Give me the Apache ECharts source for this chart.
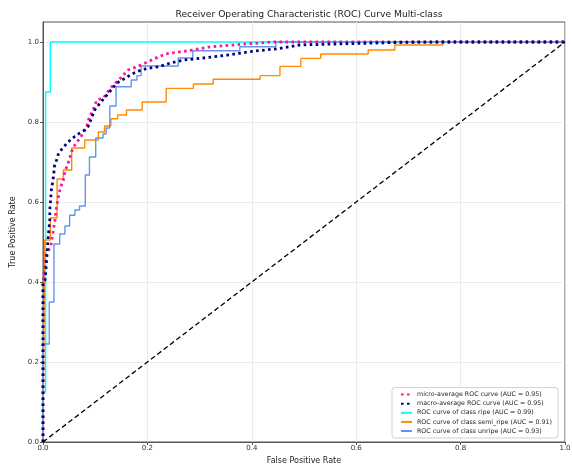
<!DOCTYPE html>
<html><head><meta charset="utf-8">
<script src="https://cdn.jsdelivr.net/npm/echarts@6/dist/echarts.min.js"></script>
<style>html,body{margin:0;padding:0;background:#fff}#c{width:572px;height:464px}</style>
</head><body><div id="c"></div>
<script>
const titleText = 'Receiver Operating Characteristic (ROC) Curve Multi-class';
const tickValues = [0, 0.2, 0.4, 0.6, 0.8, 1.0];
const seriesNames = [
  'micro-average ROC curve (AUC = 0.95)',
  'macro-average ROC curve (AUC = 0.95)',
  'ROC curve of class ripe (AUC = 0.99)',
  'ROC curve of class semi_ripe (AUC = 0.91)',
  'ROC curve of class unripe (AUC = 0.93)'
];
const microFpr = [0,0,0.006,0.015,0.023,0.026,0.033,0.039,0.042,0.048,0.052,0.055,0.061,0.071,0.077,0.084,0.087,0.094,0.100,0.103,0.116,0.122,0.132,0.141,0.151,0.163,0.180,0.195,0.215,0.234,0.287,0.32,0.378,0.438,1];
const microTpr = [0,0.40,0.4675,0.49,0.555,0.588,0.635,0.655,0.676,0.697,0.713,0.726,0.7425,0.76,0.7725,0.79,0.805,0.826,0.8425,0.855,0.86,0.872,0.888,0.90,0.913,0.93,0.938,0.947,0.959,0.97,0.98,0.988,0.994,1,1];
const macroFpr = [0,0,0.004,0.007,0.010,0.013,0.013,0.016,0.020,0.022,0.026,0.030,0.040,0.048,0.060,0.070,0.080,0.087,0.099,0.109,0.128,0.141,0.157,0.167,0.180,0.199,0.221,0.243,0.270,0.30,0.352,0.397,0.454,0.492,0.56,0.684,0.75,1];
const macroTpr = [0,0.40,0.405,0.455,0.513,0.555,0.58,0.63,0.663,0.69,0.705,0.7225,0.738,0.75,0.763,0.772,0.78,0.79,0.83,0.847,0.876,0.897,0.909,0.9175,0.926,0.934,0.938,0.947,0.955,0.959,0.967,0.976,0.984,0.9925,0.995,0.999,1,1];
const ripeFpr = [0,0,0.005,0.005,0.014,0.014,1];
const ripeTpr = [0,0.125,0.125,0.875,0.875,1,1];
const semiFpr = [0,0.003,0.003,0.014,0.014,0.027,0.027,0.039,0.039,0.055,0.055,0.080,0.080,0.106,0.106,0.118,0.118,0.130,0.130,0.143,0.143,0.160,0.160,0.190,0.190,0.236,0.236,0.288,0.288,0.326,0.326,0.416,0.416,0.454,0.454,0.494,0.494,0.532,0.532,0.623,0.623,0.674,0.674,0.766,0.766,1];
const semiTpr = [0,0,0.505,0.505,0.56,0.56,0.6575,0.6575,0.68,0.68,0.735,0.735,0.755,0.755,0.775,0.775,0.79,0.79,0.808,0.808,0.8175,0.8175,0.83,0.83,0.85,0.85,0.884,0.884,0.895,0.895,0.907,0.907,0.916,0.916,0.939,0.939,0.959,0.959,0.97,0.97,0.98,0.98,0.9925,0.9925,1,1];
const unripeFpr = [0,0,0.012,0.012,0.021,0.021,0.032,0.032,0.042,0.042,0.051,0.051,0.061,0.061,0.070,0.070,0.081,0.081,0.089,0.089,0.101,0.101,0.115,0.115,0.121,0.121,0.128,0.128,0.140,0.140,0.169,0.169,0.180,0.180,0.188,0.188,0.259,0.259,0.287,0.287,0.377,0.377,0.446,0.446,1];
const unripeTpr = [0,0.245,0.245,0.35,0.35,0.495,0.495,0.52,0.52,0.54,0.54,0.567,0.567,0.58,0.58,0.59,0.59,0.6675,0.6675,0.7125,0.7125,0.76,0.76,0.77,0.77,0.785,0.785,0.84,0.84,0.888,0.888,0.905,0.905,0.916,0.916,0.94,0.94,0.96,0.96,0.978,0.978,0.988,0.988,1,1];
const chanceFpr = [0, 1];
const chanceTpr = [0, 1];

function zip(a, b) { const n = Math.min(a.length, b.length); const r = []; for (let i = 0; i < n; i++) r.push([a[i], b[i]]); return r; }

const FONT = 'DejaVu Sans';
const chart = echarts.init(document.getElementById('c'), null, { renderer: 'canvas' });

function lineSeries(name, data, color, width, type, z) {
  return { name: name, type: 'line', data: data, symbol: 'none', smooth: false, z: z,
    lineStyle: { color: color, width: width, type: type, cap: 'butt' }, itemStyle: { color: color },
    emphasis: { disabled: true }, animation: false };
}

const option = {
  animation: false,
  backgroundColor: '#fff',
  title: { text: titleText, left: 304, top: 5, textAlign: 'center',
    textStyle: { fontFamily: FONT, fontSize: 9.2, fontWeight: 'normal', color: '#222' } },
  grid: { left: 43, right: 7, top: 22, bottom: 22, show: true, borderColor: '#555', borderWidth: 1,
    backgroundColor: 'transparent', containLabel: false, outerBoundsMode: 'none' },
  xAxis: { type: 'value', min: 0, max: 1, interval: 0.2,
    name: 'False Positive Rate', nameLocation: 'middle', nameGap: 12,
    nameTextStyle: { fontFamily: FONT, fontSize: 8, color: '#222' },
    axisLine: { show: true, lineStyle: { color: '#555', width: 1 } },
    axisTick: { show: true, length: 3, lineStyle: { color: '#555' } },
    axisLabel: { fontFamily: FONT, fontSize: 7, color: '#333', margin: 3, formatter: v => v.toFixed(1) },
    splitLine: { show: true, lineStyle: { color: '#e6e6e6', width: 0.8 } } },
  yAxis: { type: 'value', min: 0, max: 1.05, interval: 0.2,
    name: 'True Positive Rate', nameLocation: 'middle', nameGap: 25, nameRotate: 90,
    nameTextStyle: { fontFamily: FONT, fontSize: 8, color: '#222' },
    axisLine: { show: true, lineStyle: { color: '#555', width: 1 } },
    axisTick: { show: true, length: 3, lineStyle: { color: '#555' }, customValues: tickValues },
    axisLabel: { fontFamily: FONT, fontSize: 7, color: '#333', margin: 4, customValues: tickValues, formatter: v => v.toFixed(1) },
    splitLine: { show: true, lineStyle: { color: '#e6e6e6', width: 0.8 } } },
  legend: { orient: 'vertical', right: 14, bottom: 26, data: seriesNames,
    backgroundColor: '#fff', borderColor: '#d0d0d0', borderWidth: 1, borderRadius: 3,
    padding: [4, 6, 4, 8], itemWidth: 11, itemHeight: 5, itemGap: 3.1,
    itemStyle: { opacity: 0 },
    textStyle: { fontFamily: FONT, fontSize: 6.3, color: '#222', padding: [0, 0, 0, 0] },
    selectedMode: false },
  series: [
    lineSeries(seriesNames[2], zip(ripeFpr, ripeTpr), '#00ffff', 1.4, 'solid', 2),
    lineSeries(seriesNames[3], zip(semiFpr, semiTpr), '#ff8c00', 1.4, 'solid', 2),
    lineSeries(seriesNames[4], zip(unripeFpr, unripeTpr), '#6495ed', 1.4, 'solid', 2),
    lineSeries(seriesNames[0], zip(microFpr, microTpr), '#ff1493', 2.8, [2.6, 3.4], 3),
    lineSeries(seriesNames[1], zip(macroFpr, macroTpr), '#000080', 2.8, [2.6, 3.4], 3),
    Object.assign(lineSeries('chance', zip(chanceFpr, chanceTpr), '#000', 1.3, [5, 3], 4), { legendHoverLink: false })
  ]
};
chart.setOption(option);
</script></body></html>
